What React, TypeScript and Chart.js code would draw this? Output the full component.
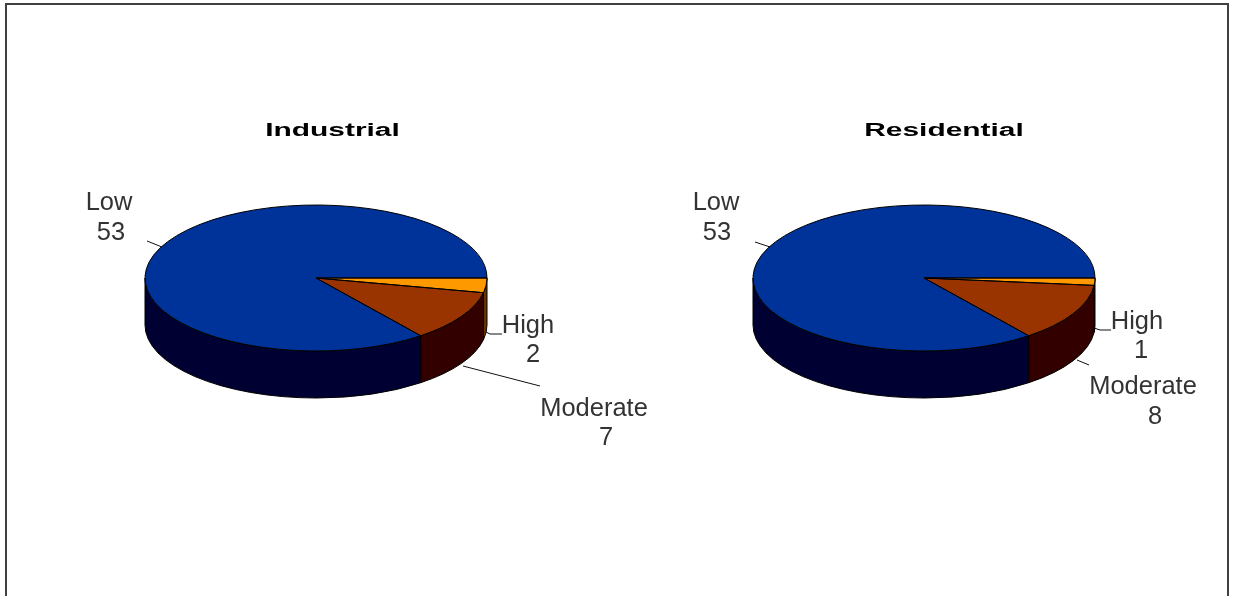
import React, { useEffect, useRef } from "react";
import { Chart, registerables } from "chart.js";

Chart.register(...registerables);

// Slices run clockwise from due east.
const categories = ["High", "Moderate", "Low"];
const industrialValues = [2, 7, 53];
const residentialValues = [1, 8, 53];
const topColors = ["#FF9900", "#993300", "#003399"];
const wallColors = ["#663300", "#330000", "#000033"];

const PAGE_W = 1234;
const PAGE_H = 596;
const CENTER_Y = 278;
const RADIUS_X = 171;
const RADIUS_Y = 73;
const DEPTH = 47;
const TILT = RADIUS_Y / RADIUS_X;

type Callout = {
  name: number[];
  value: number[];
  leader: number[][];
};

type PieSpec = {
  title: string;
  values: number[];
  left: number;
  width: number;
  centerX: number;
  titleX: number;
  callouts: Callout[];
};

const pies: PieSpec[] = [
  {
    title: "Industrial",
    values: industrialValues,
    left: 0,
    width: 670,
    centerX: 316,
    titleX: 332.5,
    callouts: [
      { name: [528, 325], value: [533, 354], leader: [[486, 332], [490, 334], [502, 334]] },
      { name: [594, 408], value: [606, 437], leader: [[463, 366], [540, 386]] },
      { name: [109, 202], value: [111, 232], leader: [[147, 241], [162, 247]] },
    ],
  },
  {
    title: "Residential",
    values: residentialValues,
    left: 670,
    width: 564,
    centerX: 924,
    titleX: 944,
    callouts: [
      { name: [1137, 321], value: [1141, 350], leader: [[1094, 328], [1100, 330], [1111, 330]] },
      { name: [1143, 386], value: [1155, 416], leader: [[1077, 360], [1089, 365]] },
      { name: [716, 202], value: [717, 232], leader: [[755, 242], [770, 247]] },
    ],
  },
];

// Flattens the pie into an ellipse, extrudes its front wall, and adds the callouts.
function piePlugin(spec: PieSpec) {
  const localX = (x: number) => x - spec.left;
  const label = (ctx: any, text: string, x: number, y: number) => {
    ctx.save();
    ctx.translate(localX(x), y + 1);
    ctx.scale(1.04, 1.07);
    ctx.fillText(text, 0, 0);
    ctx.restore();
  };
  return {
    id: "tiltedPie",
    beforeDatasetsDraw(chart: any) {
      const ctx = chart.ctx;
      const arcs = chart.getDatasetMeta(0).data;
      arcs.forEach((arc: any, i: number) => {
        const a0 = Math.max(arc.startAngle, 0);
        const a1 = Math.min(arc.endAngle, Math.PI);
        if (a1 <= a0) return;
        ctx.save();
        ctx.beginPath();
        ctx.ellipse(arc.x, CENTER_Y, RADIUS_X, RADIUS_Y, 0, a0, a1);
        ctx.ellipse(arc.x, CENTER_Y + DEPTH, RADIUS_X, RADIUS_Y, 0, a1, a0, true);
        ctx.closePath();
        ctx.fillStyle = wallColors[i];
        ctx.fill();
        ctx.strokeStyle = "#000000";
        ctx.lineWidth = 1;
        ctx.stroke();
        ctx.restore();
      });
      ctx.save();
      ctx.translate(0, CENTER_Y);
      ctx.scale(1, TILT);
      ctx.translate(0, -arcs[0].y);
    },
    afterDatasetsDraw(chart: any) {
      const ctx = chart.ctx;
      ctx.restore();
      const arcs = chart.getDatasetMeta(0).data;

      // Outlines are stroked after the tilt is undone, so the pen stays 1px wide.
      arcs.forEach((arc: any) => {
        ctx.save();
        ctx.beginPath();
        ctx.moveTo(arc.x, CENTER_Y);
        ctx.ellipse(arc.x, CENTER_Y, RADIUS_X, RADIUS_Y, 0, arc.startAngle, arc.endAngle);
        ctx.closePath();
        ctx.strokeStyle = "#000000";
        ctx.lineWidth = 1;
        ctx.stroke();
        ctx.restore();
      });

      // Chart heading, widened the way the bold face appears on this sheet.
      ctx.save();
      ctx.font = 'bold 17px "Liberation Sans"';
      ctx.fillStyle = "#000000";
      ctx.textAlign = "center";
      ctx.textBaseline = "middle";
      ctx.translate(localX(spec.titleX), 131);
      ctx.scale(1.76, 1.05);
      ctx.fillText(spec.title, 0, 0);
      ctx.restore();

      // Callouts: leader line, category name, value.
      ctx.save();
      ctx.font = '24.5px "Liberation Sans"';
      ctx.fillStyle = "#333333";
      ctx.textAlign = "center";
      ctx.textBaseline = "middle";
      spec.callouts.forEach((c, i) => {
        ctx.beginPath();
        c.leader.forEach(([x, y], j) => {
          if (j === 0) ctx.moveTo(localX(x), y);
          else ctx.lineTo(localX(x), y);
        });
        ctx.strokeStyle = "#111111";
        ctx.lineWidth = 1;
        ctx.stroke();
        label(ctx, categories[i], c.name[0], c.name[1]);
        label(ctx, String(spec.values[i]), c.value[0], c.value[1]);
      });
      ctx.restore();
    },
  };
}

function PieCanvas({ spec }: { spec: PieSpec }) {
  const ref = useRef<HTMLCanvasElement>(null);
  useEffect(() => {
    const cx = spec.centerX - spec.left;
    const chart = new Chart(ref.current!, {
      type: "pie",
      data: {
        labels: categories,
        datasets: [{ data: spec.values, backgroundColor: topColors, borderWidth: 0 }],
      },
      options: {
        responsive: false,
        animation: false,
        rotation: 90,
        layout: {
          padding: {
            left: cx - RADIUS_X,
            right: spec.width - cx - RADIUS_X,
            top: CENTER_Y - RADIUS_X,
            bottom: PAGE_H - CENTER_Y - RADIUS_X,
          },
        },
        plugins: {
          legend: { display: false },
          tooltip: { enabled: false },
          title: { display: false, text: spec.title },
        },
      },
      plugins: [piePlugin(spec)],
    } as any);
    return () => chart.destroy();
  }, [spec]);
  return (
    <canvas
      ref={ref}
      width={spec.width}
      height={PAGE_H}
      style={{ position: "absolute", left: spec.left, top: 0, width: spec.width, height: PAGE_H }}
    />
  );
}

export default function App() {
  return (
    <div
      style={{
        position: "absolute",
        left: 0,
        top: 0,
        width: PAGE_W,
        height: PAGE_H,
        overflow: "hidden",
        background: "#ffffff",
      }}
    >
      <div
        style={{
          position: "absolute",
          left: 5,
          top: 3,
          width: 1224,
          height: 640,
          boxSizing: "border-box",
          border: "2px solid #404040",
        }}
      />
      {pies.map((spec) => (
        <PieCanvas key={spec.title} spec={spec} />
      ))}
    </div>
  );
}
